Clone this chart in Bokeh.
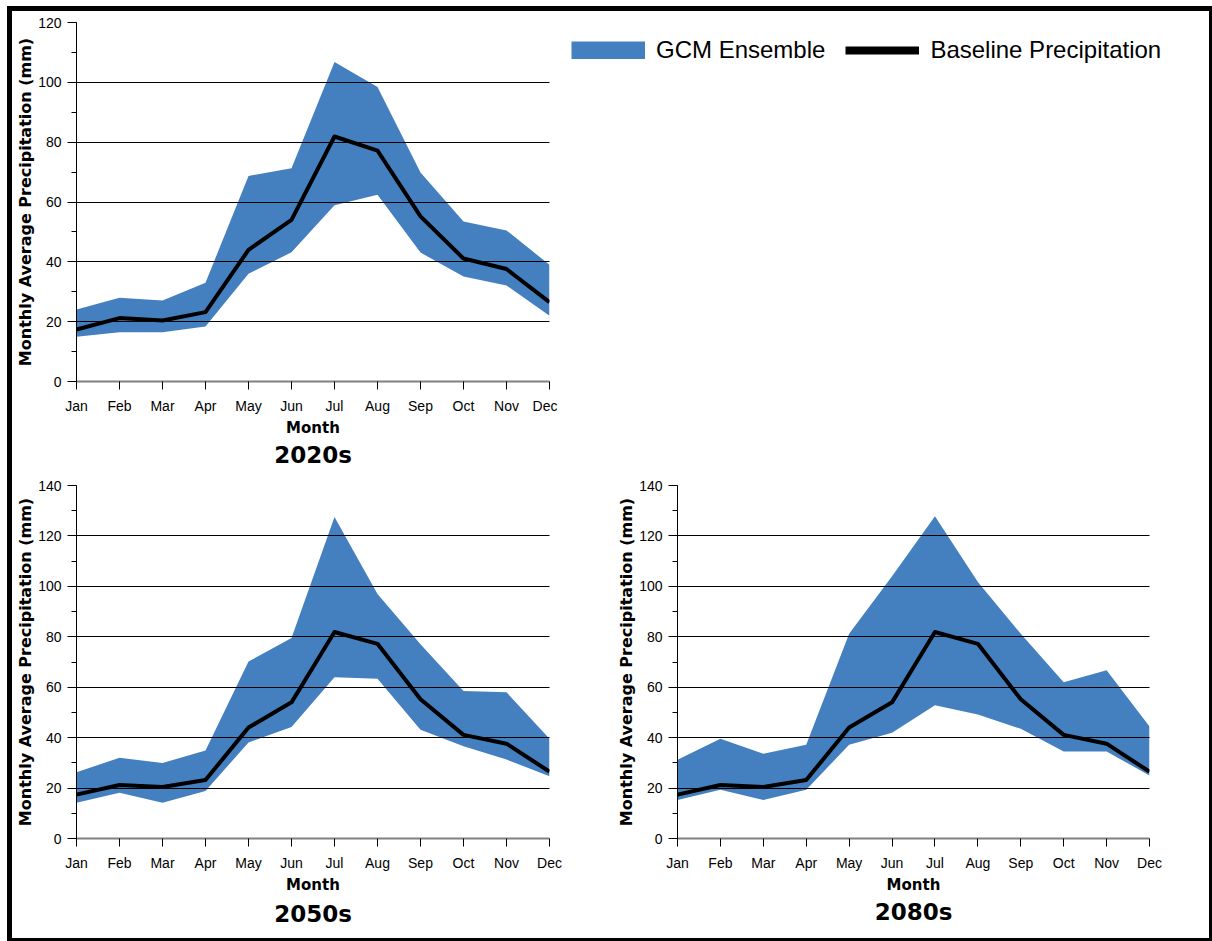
from bokeh.plotting import figure
from bokeh.layouts import column, row
from bokeh.models import (Range1d, FixedTicker, SingleIntervalTicker, Legend,
                          LegendItem, ColumnDataSource)
from bokeh.embed import file_html
from bokeh.resources import INLINE

months = ["Jan", "Feb", "Mar", "Apr", "May", "Jun",
          "Jul", "Aug", "Sep", "Oct", "Nov", "Dec"]
baseline = [17.4, 21.2, 20.4, 23.2, 44.0, 54.0, 81.9, 77.2, 55.2, 41.1, 37.6, 26.5]

upper_2020s = [24.1, 28.0, 27.1, 33.0, 68.7, 71.3, 106.8, 98.4, 69.9, 53.5, 50.5, 39.0]
lower_2020s = [15.0, 16.5, 16.5, 18.4, 36.0, 43.2, 58.9, 62.4, 43.1, 35.1, 32.1, 22.0]

upper_2050s = [26.3, 32.0, 29.9, 34.9, 70.2, 79.5, 127.5, 97.0, 77.0, 58.5, 58.0, 39.6]
lower_2050s = [14.2, 18.1, 14.2, 18.8, 38.1, 44.2, 64.0, 63.4, 43.1, 36.6, 31.3, 24.7]

upper_2080s = [31.2, 39.6, 33.6, 37.2, 81.2, 104.0, 127.8, 101.7, 81.2, 62.0, 66.7, 44.4]
lower_2080s = [15.3, 19.3, 15.3, 19.3, 37.2, 41.9, 52.8, 49.2, 43.5, 34.5, 34.5, 25.0]

periods = ["2020s", "2050s", "2080s"]
y_max = [120, 140, 140]
legend_labels = ["GCM Ensemble", "Baseline Precipitation"]

BAND = "#4480BF"
TICK_FONT = "Liberation Sans"
BOLD_FONT = "DejaVu Sans"

x_idx = list(range(len(months)))


def make_panel(title, upper, lower, ymax, fw, fh, left, right, top, bottom, title_standoff):
    p = figure(frame_width=fw, frame_height=fh,
               x_range=Range1d(0, len(months) - 1), y_range=Range1d(0, ymax),
               title=title, title_location="below",
               toolbar_location=None, output_backend="svg",
               min_border_left=left, min_border_right=right,
               min_border_top=top, min_border_bottom=bottom)
    p.outline_line_color = None
    p.background_fill_color = "white"
    p.border_fill_color = "white"

    src = ColumnDataSource(dict(x=x_idx, upper=upper, lower=lower, base=baseline))
    p.varea(x="x", y1="lower", y2="upper", source=src, fill_color=BAND)
    p.line(x="x", y="base", source=src, line_color="black", line_width=4,
           line_join="round")

    p.xgrid.visible = False
    p.ygrid.grid_line_color = "black"
    p.ygrid.grid_line_width = 1
    p.ygrid.level = "annotation"
    p.ygrid.ticker = SingleIntervalTicker(interval=20)

    xa = p.xaxis[0]
    xa.ticker = FixedTicker(ticks=x_idx, minor_ticks=[])
    xa.major_label_overrides = {i: m for i, m in enumerate(months)}
    xa.axis_label = "Month"
    xa.axis_line_color = "#808080"
    xa.axis_line_width = 2
    xa.major_tick_line_color = "black"
    xa.major_tick_out = 8
    xa.major_tick_in = 0
    xa.major_label_standoff = 8
    xa.axis_label_standoff = 2
    xa.major_label_text_font = TICK_FONT
    xa.major_label_text_font_size = "14px"
    xa.major_label_text_color = "black"
    xa.axis_label_text_font = BOLD_FONT
    xa.axis_label_text_font_size = "15px"
    xa.axis_label_text_font_style = "bold"
    xa.axis_label_text_color = "black"

    ya = p.yaxis[0]
    ya.ticker = SingleIntervalTicker(interval=20, num_minor_ticks=2)
    ya.axis_label = "Monthly Average Precipitation (mm)"
    ya.axis_line_color = "black"
    ya.axis_line_width = 1
    ya.major_tick_line_color = "black"
    ya.minor_tick_line_color = "black"
    ya.major_tick_out = 9
    ya.major_tick_in = 0
    ya.minor_tick_out = 5
    ya.minor_tick_in = 0
    ya.major_label_standoff = 6
    ya.axis_label_standoff = 0
    ya.major_label_text_font = TICK_FONT
    ya.major_label_text_font_size = "14px"
    ya.major_label_text_color = "black"
    ya.axis_label_text_font = BOLD_FONT
    ya.axis_label_text_font_size = "16px"
    ya.axis_label_text_font_style = "bold"
    ya.axis_label_text_color = "black"

    p.title.align = "center"
    p.title.text_font = BOLD_FONT
    p.title.text_font_size = "23px"
    p.title.text_font_style = "bold"
    p.title.text_color = "black"
    p.title.standoff = title_standoff
    return p


p1 = make_panel(periods[0], upper_2020s, lower_2020s, y_max[0],
                473, 359, 64, 8, 11, 93, 0)
p2 = make_panel(periods[1], upper_2050s, lower_2050s, y_max[1],
                473, 353, 64, 23, 11, 100, 4)
p3 = make_panel(periods[2], upper_2080s, lower_2080s, y_max[2],
                472, 353, 105, 60, 11, 100, 0)

# legend panel: same data as the 2020s panel, kept outside the visible range
leg = figure(width=652, height=463, x_range=Range1d(-30, -20), y_range=Range1d(0, 1),
             x_axis_type=None, y_axis_type=None, toolbar_location=None,
             output_backend="svg", min_border=0, min_border_top=11,
             min_border_bottom=93)
leg.outline_line_color = None
leg.grid.visible = False
lsrc = ColumnDataSource(dict(x=x_idx, upper=upper_2020s, lower=lower_2020s, base=baseline))
# thick butt-capped stroke gives a solid 74x18 swatch in the legend
r1 = leg.line(x="x", y="upper", source=lsrc, line_color=BAND, line_width=18,
              line_cap="butt")
r2 = leg.line(x="x", y="base", source=lsrc, line_color="black", line_width=8,
              line_cap="butt")
legend = Legend(items=[LegendItem(label=legend_labels[0], renderers=[r1]),
                       LegendItem(label=legend_labels[1], renderers=[r2])],
                orientation="horizontal", location="top_left",
                spacing=20, label_standoff=11, glyph_width=74, glyph_height=18,
                padding=0, margin=14, border_line_color=None,
                background_fill_alpha=0,
                label_text_font=TICK_FONT, label_text_font_size="24px",
                label_text_color="black")
leg.add_layout(legend)

layout = column(row(p1, leg), row(p2, p3),
                styles={"position": "absolute", "left": "7px", "top": "6px",
                        "border": "5px solid black", "box-sizing": "content-box"})

open("out.html", "w").write(file_html(layout, INLINE))
